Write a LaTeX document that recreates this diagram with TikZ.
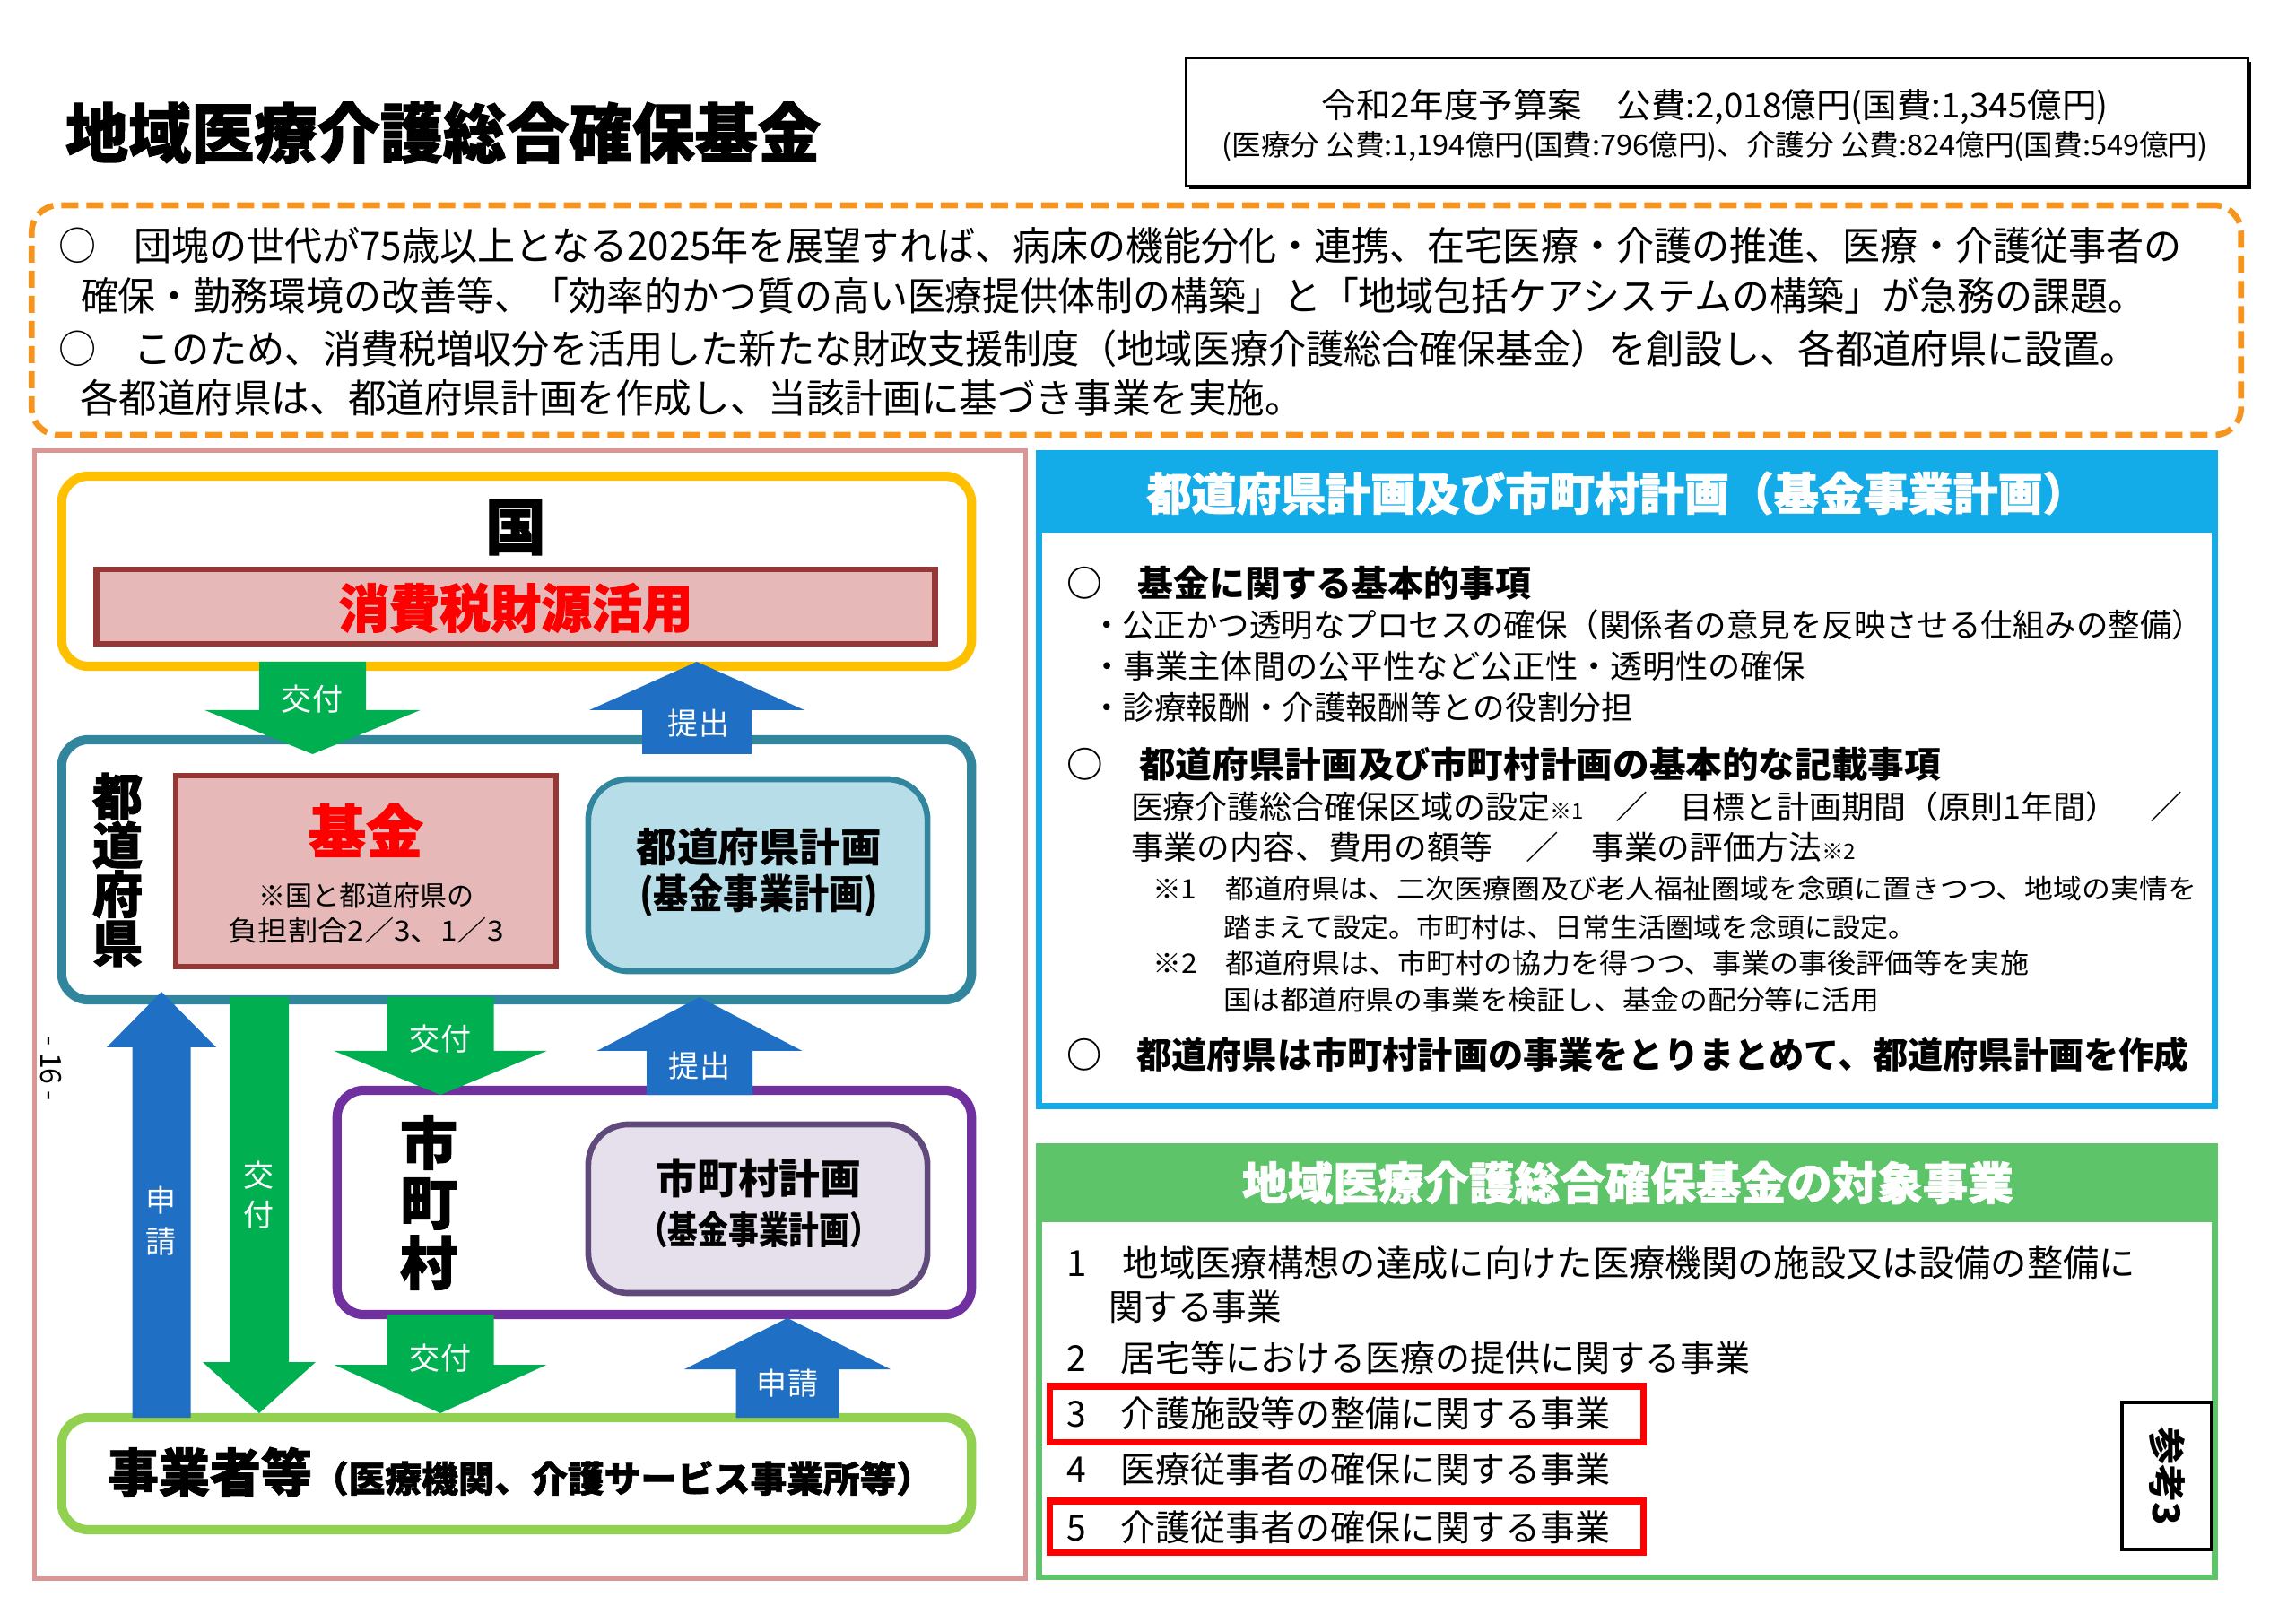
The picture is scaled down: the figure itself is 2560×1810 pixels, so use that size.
\documentclass[tikz,border=0pt]{standalone}
\usepackage{fontspec}
\setmainfont{Noto Sans CJK JP}
\newfontfamily\heavy[FakeBold=1.5]{Noto Sans CJK JP}
\usepackage{graphicx}
\newlength\pxu \setlength\pxu{0.01cm}
\newcommand\pxf[1]{\fontsize{\fpeval{#1*0.28453}pt}{\fpeval{#1*0.28453*1.2}pt}\selectfont}
\newcommand\pxfl[2]{\fontsize{\fpeval{#1*0.28453}pt}{\fpeval{#2*0.28453}pt}\selectfont}
\newcommand\fitw[2]{\resizebox{#1\pxu}{\height}{#2}}
% block arrow: colour, x centre, y of shaft end, y of head base, y of tip, shaft width, head width
\newcommand\blockarr[7]{%
  \fill[#1] ({#2-#6/2},#3) -- ({#2+#6/2},#3) -- ({#2+#6/2},#4) -- ({#2+#7/2},#4)
    -- (#2,#5) -- ({#2-#7/2},#4) -- ({#2-#6/2},#4) -- cycle;}
\definecolor{orangeD}{HTML}{F7941D}
\definecolor{pinkF}{HTML}{D99694}
\definecolor{goldB}{HTML}{FFC000}
\definecolor{tealB}{HTML}{31859C}
\definecolor{purpB}{HTML}{7030A0}
\definecolor{lgreenB}{HTML}{92D050}
\definecolor{agreen}{HTML}{00B050}
\definecolor{ablue}{HTML}{1F6FC5}
\definecolor{pnlblue}{HTML}{14ACE8}
\definecolor{pnlgreen}{HTML}{5EC46A}
\definecolor{pinkfill}{HTML}{E6B9B8}
\definecolor{darkred}{HTML}{953735}
\definecolor{lblueF}{HTML}{B7DEE8}
\definecolor{lpurpF}{HTML}{E6E0EC}
\definecolor{dpurpB}{HTML}{604A7B}
\definecolor{redT}{HTML}{FF0000}
\begin{document}
\begin{tikzpicture}[x=0.01cm,y=-0.01cm,
  bx/.style={draw, outer sep=0pt, inner sep=0pt},
  txt/.style={inner sep=0pt, outer sep=0pt},
  lt/.style={txt, anchor=west},
  alab/.style={txt, text=white, align=center},
]
\useasboundingbox (0,0) rectangle (2560,1810);
\fill[white] (0,0) rectangle (2560,1810);

% ---------- title ----------
\node[lt] (title) at (73,148) {\heavy\bfseries\pxf{72}\fitw{842}{地域医療介護総合確保基金}};

% ---------- budget box ----------
\node[bx, fill=black, draw=none, minimum width=11.83cm, minimum height=1.42cm] (budgetsh) at (1918,140) {};
\node[bx, fill=white, line width=0.8pt, minimum width=11.83cm, minimum height=1.42cm] (budget) at (1914.5,136) {};
\node[txt] (b1) at (1912,119) {\pxf{38}\fitw{877}{令和2年度予算案　公費:2,018億円(国費:1,345億円)}};
\node[txt] (b2) at (1912,163) {\pxf{32}\fitw{1099}{(医療分 公費:1,194億円(国費:796億円)、介護分 公費:824億円(国費:549億円)}};

% ---------- intro box ----------
\node[bx, draw=orangeD, line width=1.9pt, dash pattern=on 0.19cm off 0.09cm, rounded corners=0.3cm,
  minimum width=24.62cm, minimum height=2.56cm] (intro) at (1267,357) {};
\node[lt] (o1) at (65,274) {\pxf{44}\fitw{2368}{○　団塊の世代が75歳以上となる2025年を展望すれば、病床の機能分化・連携、在宅医療・介護の推進、医療・介護従事者の}};
\node[lt] (o2) at (90,330) {\pxf{44}\fitw{2302}{確保・勤務環境の改善等、「効率的かつ質の高い医療提供体制の構築」と「地域包括ケアシステムの構築」が急務の課題。}};
\node[lt] (o3) at (65,389) {\pxf{44}\fitw{2319}{○　このため、消費税増収分を活用した新たな財政支援制度（地域医療介護総合確保基金）を創設し、各都道府県に設置。}};
\node[lt] (o4) at (90,444) {\pxf{44}\fitw{1363}{各都道府県は、都道府県計画を作成し、当該計画に基づき事業を実施。}};

% ---------- left diagram ----------
\node[bx, draw=pinkF, line width=1.4pt, minimum width=11.04cm, minimum height=12.57cm] (frame) at (591,1131.5) {};
\node[txt, rotate=-90] (pageno) at (57,1192) {\pxf{32}- 16 -};

\node[bx, draw=goldB, line width=2.9pt, rounded corners=0.3cm, minimum width=10.14cm, minimum height=2.12cm] (kuni) at (576,637) {};
\node[txt] (kunilab) at (575,588) {\heavy\bfseries\pxf{68}国};
\node[bx, draw=darkred, fill=pinkfill, line width=1.9pt, minimum width=9.34cm, minimum height=0.83cm] (shohi) at (575,676.5) {};
\node[txt, text=redT] (shohilab) at (575,678) {\heavy\bfseries\pxf{58}\fitw{395}{消費税財源活用}};

\node[bx, draw=tealB, line width=2.9pt, rounded corners=0.3cm, minimum width=10.14cm, minimum height=2.90cm] (ken) at (576,970) {};
\node[txt, align=center, font={\heavy\bfseries\pxfl{56}{54.5}}] (kenlab) at (131,970) {都\\道\\府\\県};
\node[bx, draw=darkred, fill=pinkfill, line width=1.9pt, minimum width=4.24cm, minimum height=2.13cm] (kikin) at (408,971.5) {};
\node[txt, text=redT] (kikinlab) at (408,926) {\heavy\bfseries\pxf{64}基金};
\node[txt] (kikinn1) at (408,999) {\pxf{31}\fitw{240}{※国と都道府県の}};
\node[txt] (kikinn2) at (408,1038) {\pxf{31}\fitw{307}{負担割合2／3、1／3}};
\node[bx, draw=tealB, fill=lblueF, line width=1.9pt, rounded corners=0.45cm, minimum width=3.78cm, minimum height=2.14cm] (kenplan) at (845,976) {};
\node[txt] (kenplan1) at (846,944) {\bfseries\pxf{45}\fitw{273}{都道府県計画}};
\node[txt] (kenplan2) at (846,999) {\bfseries\pxf{45}\fitw{266}{(基金事業計画)}};

\node[bx, draw=purpB, line width=2.9pt, rounded corners=0.3cm, minimum width=7.07cm, minimum height=2.50cm] (shi) at (729.5,1341) {};
\node[txt, align=center, font={\heavy\bfseries\pxfl{64}{67}}] (shilab) at (478,1341) {市\\町\\村};
\node[bx, draw=dpurpB, fill=lpurpF, line width=1.9pt, rounded corners=0.45cm, minimum width=3.78cm, minimum height=1.88cm] (shiplan) at (845,1348) {};
\node[txt] (shiplan1) at (846,1314) {\bfseries\pxf{46}\fitw{229}{市町村計画}};
\node[txt] (shiplan2) at (846,1372) {\bfseries\pxf{42}\fitw{270}{（基金事業計画）}};

\node[bx, draw=lgreenB, line width=2.9pt, rounded corners=0.3cm, minimum width=10.14cm, minimum height=1.25cm] (jigyo) at (576,1643.5) {};
\node[txt, anchor=base west] (jigyolab) at (120,1664) {\heavy\bfseries\pxf{58}\fitw{228}{事業者等}\bfseries\pxf{40}\fitw{692}{（医療機関、介護サービス事業所等）}};

% ---------- block arrows ----------
\blockarr{agreen}{348.5}{738}{792}{841}{119}{240}
\node[alab] (a1) at (348,780) {\pxf{34}交付};
\blockarr{ablue}{777}{841}{792}{738}{122}{240}
\node[alab] (a2) at (779,807) {\pxf{34}提出};
\blockarr{agreen}{491}{1112}{1172}{1221}{119}{237}
\node[alab] (a3) at (491,1159) {\pxf{34}交付};
\blockarr{ablue}{780}{1221}{1172}{1112}{118}{229}
\node[alab] (a4) at (780,1189) {\pxf{34}提出};
\blockarr{ablue}{180}{1581}{1168}{1106}{65}{122}
\node[alab, font={\pxfl{34}{46}}] (a5) at (180,1362) {申\\請};
\blockarr{agreen}{289}{1112}{1519}{1576}{66}{126}
\node[alab, font={\pxfl{34}{44}}] (a6) at (289,1333) {交\\付};
\blockarr{agreen}{491}{1466}{1522}{1576}{119}{237}
\node[alab] (a7) at (491,1515) {\pxf{34}交付};
\blockarr{ablue}{878}{1581}{1527}{1470}{115}{230}
\node[alab] (a8) at (878,1543) {\pxf{34}申請};

% ---------- right panel 1 ----------
\node[bx, draw=pnlblue, line width=1.9pt, minimum width=13.10cm, minimum height=7.27cm] (bpanel) at (1814,869.5) {};
\node[bx, draw=pnlblue, fill=pnlblue, line width=1.9pt, minimum width=13.10cm, minimum height=0.85cm] (bhead) at (1814,548.5) {};
\node[txt, text=white] (h1) at (1803,550) {\heavy\bfseries\pxf{50}\fitw{1049}{都道府県計画及び市町村計画（基金事業計画）}};
\node[lt] (p1) at (1189,650) {\bfseries\pxf{40}\fitw{518}{○　基金に関する基本的事項}};
\node[lt] (p2) at (1216,697) {\pxf{36}\fitw{1241}{・公正かつ透明なプロセスの確保（関係者の意見を反映させる仕組みの整備）}};
\node[lt] (p3) at (1216,743) {\pxf{36}\fitw{797}{・事業主体間の公平性など公正性・透明性の確保}};
\node[lt] (p4) at (1216,789) {\pxf{36}\fitw{605}{・診療報酬・介護報酬等との役割分担}};
\node[lt] (p5) at (1189,852) {\bfseries\pxf{40}\fitw{975}{○　都道府県計画及び市町村計画の基本的な記載事項}};
\node[lt] (p6) at (1261,900) {\pxf{36}\fitw{1172}{医療介護総合確保区域の設定{\pxf{24}※1}　／　目標と計画期間（原則1年間）　／}};
\node[lt] (p7) at (1261,945) {\pxf{36}\fitw{808}{事業の内容、費用の額等　／　事業の評価方法{\pxf{24}※2}}};
\node[lt] (p8) at (1285,991) {\pxf{30}\fitw{1164}{※1　都道府県は、二次医療圏及び老人福祉圏域を念頭に置きつつ、地域の実情を}};
\node[lt] (p9) at (1364,1034) {\pxf{30}\fitw{772}{踏まえて設定。市町村は、日常生活圏域を念頭に設定。}};
\node[lt] (p10) at (1285,1074) {\pxf{30}\fitw{977}{※2　都道府県は、市町村の協力を得つつ、事業の事後評価等を実施}};
\node[lt] (p11) at (1364,1115) {\pxf{30}\fitw{731}{国は都道府県の事業を検証し、基金の配分等に活用}};
\node[lt] (p12) at (1189,1176) {\bfseries\pxf{40}\fitw{1252}{○　都道府県は市町村計画の事業をとりまとめて、都道府県計画を作成}};

% ---------- right panel 2 ----------
\node[bx, draw=pnlgreen, line width=1.9pt, minimum width=13.10cm, minimum height=4.81cm] (gpanel) at (1814,1518.5) {};
\node[bx, draw=pnlgreen, fill=pnlgreen, line width=1.9pt, minimum width=13.10cm, minimum height=0.82cm] (ghead) at (1814,1319) {};
\node[txt, text=white] (g0) at (1815,1319) {\heavy\bfseries\pxf{50}\fitw{860}{地域医療介護総合確保基金の対象事業}};
\node[lt] (g1) at (1189,1408) {\pxf{40}\fitw{1192}{1　地域医療構想の達成に向けた医療機関の施設又は設備の整備に}};
\node[lt] (g1b) at (1236,1457) {\pxf{40}\fitw{193}{関する事業}};
\node[lt] (g2) at (1189,1514) {\pxf{40}\fitw{762}{2　居宅等における医療の提供に関する事業}};
\node[bx, draw=redT, line width=2pt, minimum width=6.61cm, minimum height=0.62cm] (red3) at (1501.5,1577) {};
\node[lt] (g3) at (1189,1576) {\pxf{40}\fitw{607}{3　介護施設等の整備に関する事業}};
\node[lt] (g4) at (1189,1638) {\pxf{40}\fitw{607}{4　医療従事者の確保に関する事業}};
\node[bx, draw=redT, line width=2pt, minimum width=6.61cm, minimum height=0.57cm] (red5) at (1501.5,1702.5) {};
\node[lt] (g5) at (1189,1703) {\pxf{40}\fitw{607}{5　介護従事者の確保に関する事業}};
\node[bx, fill=white, line width=0.9pt, minimum width=1.00cm, minimum height=1.64cm] (sanko) at (2416,1646) {};
\node[txt, rotate=-90] (sankolab) at (2416,1646) {\bfseries\pxf{42}参考3};
\end{tikzpicture}
\end{document}
